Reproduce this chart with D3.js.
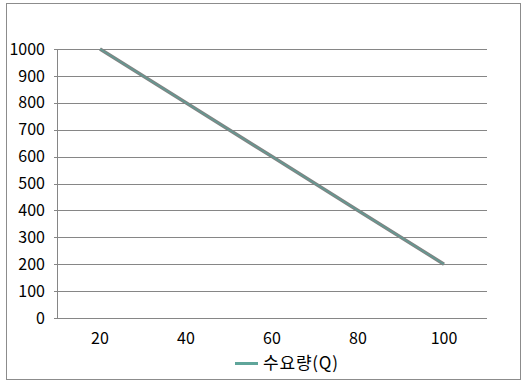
<!DOCTYPE html>
<html>
<head>
<meta charset="utf-8">
<script src="https://cdn.jsdelivr.net/npm/d3@7"></script>
<style>
body { margin: 0; background: #fff; }
svg text { font-family: "Noto Sans CJK KR", "Noto Sans", sans-serif; }
</style>
</head>
<body>
<script>
var width = 527, height = 386;
var categories = ["20", "40", "60", "80", "100"];
var demand = [1000, 800, 600, 400, 200];
var yTicks = [0, 100, 200, 300, 400, 500, 600, 700, 800, 900, 1000];
var seriesName = "수요량(Q)";

var plotLeft = 57, plotRight = 487, plotTop = 49, plotBottom = 318;

var svg = d3.select("body")
	.append("svg")
	.attr("width", width)
	.attr("height", height);

// outer frame
svg.append("rect")
	.attr("x", 6.5)
	.attr("y", 3.5)
	.attr("width", 514)
	.attr("height", 376)
	.attr("fill", "white")
	.attr("stroke", "#8c8c8c")
	.attr("stroke-width", 1);

var x = d3.scaleBand().domain(categories).range([plotLeft, plotRight]);
var y = d3.scaleLinear().domain([0, 1000]).range([plotBottom, plotTop]);

// gridlines
svg.append("g")
	.selectAll("line")
	.data(yTicks)
	.enter()
	.append("line")
	.attr("x1", plotLeft - 3)
	.attr("x2", plotRight)
	.attr("y1", function(d) { return Math.round(y(d)) + 0.5; })
	.attr("y2", function(d) { return Math.round(y(d)) + 0.5; })
	.attr("stroke", "#868686")
	.attr("stroke-width", 1);

// y axis line
svg.append("line")
	.attr("x1", plotLeft + 0.5)
	.attr("x2", plotLeft + 0.5)
	.attr("y1", plotTop)
	.attr("y2", plotBottom + 1)
	.attr("stroke", "#868686");

// y labels
svg.append("g")
	.selectAll("text")
	.data(yTicks)
	.enter()
	.append("text")
	.attr("x", 45)
	.attr("y", function(d) { return y(d); })
	.attr("dy", "0.35em")
	.attr("text-anchor", "end")
	.attr("font-size", 16)
	.attr("fill", "#000")
	.text(function(d) { return d; });

// x labels
svg.append("g")
	.selectAll("text")
	.data(categories)
	.enter()
	.append("text")
	.attr("x", function(d) { return x(d) + x.bandwidth() / 2; })
	.attr("y", 338)
	.attr("dy", "0.35em")
	.attr("text-anchor", "middle")
	.attr("font-size", 16)
	.attr("fill", "#000")
	.text(function(d) { return d; });

var line = d3.line()
	.x(function(d, i) { return x(categories[i]) + x.bandwidth() / 2; })
	.y(function(d) { return y(d); });

svg.append("path")
	.datum(demand)
	.attr("d", line)
	.attr("fill", "none")
	.attr("stroke", "#7f8483")
	.attr("stroke-width", 3.5);

svg.append("path")
	.datum(demand)
	.attr("d", line)
	.attr("fill", "none")
	.attr("stroke", "#5f9d95")
	.attr("stroke-width", 1.2);

// legend
svg.append("line")
	.attr("x1", 235)
	.attr("x2", 258)
	.attr("y1", 363.5)
	.attr("y2", 363.5)
	.attr("stroke", "#5fa59a")
	.attr("stroke-width", 3);

svg.append("text")
	.attr("x", 263)
	.attr("y", 363)
	.attr("dy", "0.35em")
	.attr("font-size", 17)
	.attr("letter-spacing", 0.8)
	.attr("fill", "#000")
	.text(seriesName);
</script>
</body>
</html>
